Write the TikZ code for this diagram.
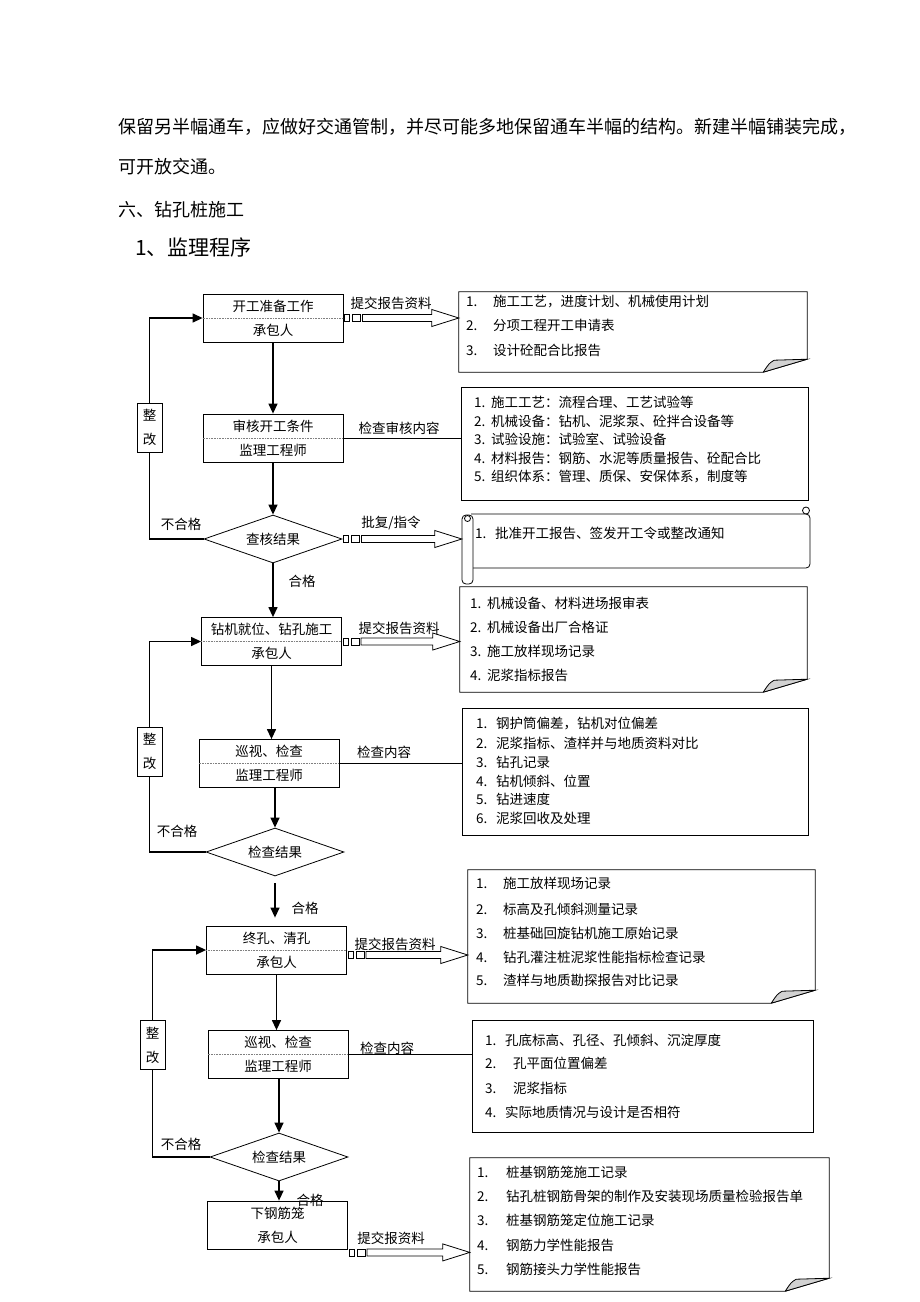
\documentclass[tikz,border=0pt]{standalone}
\usepackage{fontspec}
\setmainfont{Noto Sans CJK SC}
\usetikzlibrary{shapes.geometric,arrows.meta,calc}

\tikzset{
  procbox/.style={draw, line width=0.8pt, minimum width=140pt, minimum height=48pt,
    inner sep=0pt, align=center, font=\fontsize{13.5}{24}\selectfont},
  checknode/.style={draw, line width=0.8pt, diamond, aspect=2.9, minimum width=138pt,
    minimum height=48pt, inner sep=0pt, font=\fontsize{13.5}{16}\selectfont},
  fixbox/.style={draw, line width=0.8pt, minimum width=25pt, minimum height=49pt,
    inner sep=0pt, align=center, font=\fontsize{13.5}{24}\selectfont},
  notearea/.style={inner sep=0pt},
  plainnote/.style={draw, line width=0.8pt, inner sep=0pt},
  lbl/.style={inner sep=0pt, font=\fontsize{13.5}{16}\selectfont},
  item/.style={anchor=west, inner sep=0pt, font=\fontsize{13.5}{16}\selectfont},
  para/.style={anchor=west, inner sep=0pt, font=\fontsize{18}{20}\selectfont},
  flow/.style={line width=1.3pt, -{Triangle[length=10pt,width=9pt]}},
  loopline/.style={line width=1.2pt},
  link/.style={line width=0.8pt},
  divider/.style={densely dotted, line width=0.6pt, gray},
}

% Hollow hand-over arrow: start point, target note
\def\handover#1#2{%
  \draw[link] ($(#1)+(1,-3.5)$) rectangle ($(#1)+(6,3.5)$)
              ($(#1)+(9,-3.5)$) rectangle ($(#1)+(17,3.5)$);
  \draw[link] ($(#1)+(19,-3.5)$) -- ($(#1 -| #2.west)+(-27,-3.5)$)
    -- ($(#1 -| #2.west)+(-27,-8.5)$) -- (#1 -| #2.west)
    -- ($(#1 -| #2.west)+(-27,8.5)$) -- ($(#1 -| #2.west)+(-27,3.5)$)
    -- ($(#1)+(19,3.5)$) -- cycle;
}

% Note with a curled corner
\def\foldnote#1{%
  \draw[link] (#1.north west) -- (#1.north east) -- ($(#1.south east)+(0,-13)$)
    -- ($(#1.south east)+(-44,0)$) -- (#1.south west) -- cycle;
  \filldraw[link, fill=gray!35] ($(#1.south east)+(-44,0)$)
    .. controls ($(#1.south east)+(-38,-9)$) .. ($(#1.south east)+(-33,-12)$)
    -- ($(#1.south east)+(0,-13)$)
    .. controls ($(#1.south east)+(-22,-6)$) .. ($(#1.south east)+(-44,0)$);
}

\begin{document}
\begin{tikzpicture}[x=1pt,y=-1pt]
\fill[white] (0,0) rectangle (920,1302);
\useasboundingbox (0,0) rectangle (920,1302);

% Running text
\node[para] (p1) at (118,127) {保留另半幅通车，应做好交通管制，并尽可能多地保留通车半幅的结构。新建半幅铺装完成，};
\node[para] (p2) at (118,167) {可开放交通。};
\node[para] (p3) at (118,210) {六、钻孔桩施工};
\node[para, font=\fontsize{21}{24}\selectfont] (p4) at (135,247) {1、监理程序};

% Stage 1: start of works
\node[procbox] (a1) at (273,318) {开工准备工作\\承包人};
\node[procbox] (a2) at (273,438) {审核开工条件\\监理工程师};
\node[checknode] (a3) at (273,539) {查核结果};
\node[fixbox] (fix1) at (149.5,427.5) {整\\改};
\draw[divider] (a1.west) -- (a1.east);
\draw[divider] (a2.west) -- (a2.east);

\draw[flow] (a1) -- (a2);
\draw[flow] (a2) -- (a3);
\draw[loopline] (a3.west) -| (fix1.south);
\draw[flow] (fix1.north) |- (a1.west);
\node[lbl] (a3no) at (181,524) {不合格};

% Notes of stage 1
\node[notearea, minimum width=348pt, minimum height=80pt] (n1) at (633,332) {};
\foldnote{n1}
\foreach \y/\t [count=\i] in {302/{施工工艺，进度计划、机械使用计划}, 325/{分项工程开工申请表}, 350/{设计砼配合比报告}}
  \node[item] (n1-\i) at (466,\y) {\makebox[27pt][l]{\i.}\t};

\node[plainnote, minimum width=347pt, minimum height=113pt] (n2) at (634.5,443.5) {};
\foreach \y/\t [count=\i] in {402/{施工工艺：流程合理、工艺试验等}, 421/{机械设备：钻机、泥浆泵、砼拌合设备等},
    439/{试验设施：试验室、试验设备}, 458/{材料报告：钢筋、水泥等质量报告、砼配合比}, 477/{组织体系：管理、质保、安保体系，制度等}}
  \node[item] (n2-\i) at (474,\y) {\makebox[17pt][l]{\i.}\t};

\node[notearea, minimum width=348pt, minimum height=76pt] (n3) at (636,546) {};
\draw[link, rounded corners=4pt] (471,514) -- (810,514) -- (810,568) -- (471,568);
\draw[link, fill=white] (806,510.5) circle[radius=3.5pt];
\draw[link, rounded corners=4pt, fill=white] (462,515) rectangle (473,584);
\draw[link] (467.5,518.5) circle[radius=3pt];
\node[item] (n3-1) at (475,533) {\makebox[20pt][l]{1.}批准开工报告、签发开工令或整改通知};

\draw[link] (a2.east) -- (a2.east -| n2.west);
\node[lbl] (a2txt) at (399,428) {检查审核内容};
\handover{a1.east}{n1}
\node[lbl] (a1txt) at (391,303) {提交报告资料};
\handover{a3.east}{n3}
\node[lbl] (a3txt) at (391,523) {批复/指令};

% Stage 2: drilling
\node[procbox] (b1) at (271.5,641.5) {钻机就位、钻孔施工\\承包人};
\node[procbox] (b2) at (269,763.5) {巡视、检查\\监理工程师};
\node[checknode] (b3) at (275,852) {检查结果};
\node[fixbox] (fix2) at (149.5,751.5) {整\\改};
\draw[divider] (b1.west) -- (b1.east);
\draw[divider] (b2.west) -- (b2.east);

\draw[flow] (a3.south) -- (a3.south |- b1.north);
\node[lbl] (a3ok) at (302,581) {合格};
\draw[flow] (b1.south) -- (b1.south |- b2.north);
\draw[flow] (b2.south -| b3) -- (b3.north);
\draw[loopline] (b3.west) -| (fix2.south);
\draw[flow] (fix2.north) |- (b1.west);
\node[lbl] (b3no) at (177,831) {不合格};

\node[notearea, minimum width=347pt, minimum height=105pt] (n4) at (633.5,639.5) {};
\foldnote{n4}
\foreach \y/\t [count=\i] in {603/{机械设备、材料进场报审表}, 627/{机械设备出厂合格证}, 651/{施工放样现场记录}, 675/{泥浆指标报告}}
  \node[item] (n4-\i) at (470,\y) {\makebox[17pt][l]{\i.}\t};

\node[plainnote, minimum width=346pt, minimum height=127pt] (n5) at (635,771.5) {};
\foreach \y/\t [count=\i] in {723/{钢护筒偏差，钻机对位偏差}, 743/{泥浆指标、渣样并与地质资料对比}, 762/{钻孔记录},
    781/{钻机倾斜、位置}, 799/{钻进速度}, 818/{泥浆回收及处理}}
  \node[item] (n5-\i) at (476,\y) {\makebox[20pt][l]{\i.}\t};

\handover{b1.east}{n4}
\node[lbl] (b1txt) at (399,628) {提交报告资料};
\draw[link] (b2.east) -- (b2.east -| n5.west);
\node[lbl] (b2txt) at (384,752) {检查内容};

% Stage 3: final hole and cleaning
\node[procbox] (c1) at (276.5,950) {终孔、清孔\\承包人};
\node[procbox] (c2) at (278,1054.5) {巡视、检查\\监理工程师};
\node[checknode] (c3) at (279,1157) {检查结果};
\node[fixbox] (fix3) at (152.5,1045) {整\\改};
\draw[divider] (c1.west) -- (c1.east);
\draw[divider] (c2.west) -- (c2.east);

\coordinate (b3gap) at ($(b3.south)+(0,7)$);
\draw[flow, shorten >=8pt] (b3gap) -- (b3gap |- c1.north);
\node[lbl] (b3ok) at (305,908) {合格};
\draw[flow] (c1) -- (c1 |- c2.north);
\draw[flow] (c2.south -| c3) -- (c3.north);
\draw[loopline] (c3.west) -| (fix3.south);
\draw[flow] (fix3.north) |- (c1.west);
\node[lbl] (c3no) at (181,1144) {不合格};

\node[notearea, minimum width=347pt, minimum height=133pt] (n6) at (641.5,936.5) {};
\foldnote{n6}
\foreach \y/\t [count=\i] in {883/{施工放样现场记录}, 909/{标高及孔倾斜测量记录}, 933/{桩基础回旋钻机施工原始记录},
    957/{钻孔灌注桩泥浆性能指标检查记录}, 980/{渣样与地质勘探报告对比记录}}
  \node[item] (n6-\i) at (476,\y) {\makebox[27pt][l]{\i.}\t};

\node[plainnote, minimum width=341pt, minimum height=112pt] (n7) at (642.5,1076) {};
\node[item] (n7-1) at (485,1040) {\makebox[20pt][l]{1.}孔底标高、孔径、孔倾斜、沉淀厚度};
\node[item] (n7-2) at (485,1063) {\makebox[28pt][l]{2.}孔平面位置偏差};
\node[item] (n7-3) at (485,1088) {\makebox[28pt][l]{3.}泥浆指标};
\node[item] (n7-4) at (485,1112) {\makebox[20pt][l]{4.}实际地质情况与设计是否相符};

\coordinate (c1out) at ($(c1.east)+(0,5)$);
\handover{c1out}{n6}
\node[lbl] (c1txt) at (395,944) {提交报告资料};
\draw[link] (c2.east) -- (c2.east -| n7.west);
\node[lbl] (c2txt) at (387,1048) {检查内容};

% Stage 4: reinforcement cage
\node[procbox] (d1) at (277.5,1225) {下钢筋笼\\承包人};
\draw[flow] (c3) -- (c3 |- d1.north);
\node[lbl] (c3ok) at (310,1200) {合格};

\node[notearea, minimum width=359pt, minimum height=133pt] (n8) at (649.5,1224.5) {};
\foldnote{n8}
\foreach \y/\t [count=\i] in {1172/{桩基钢筋笼施工记录}, 1196/{钻孔桩钢筋骨架的制作及安装现场质量检验报告单}, 1220/{桩基钢筋笼定位施工记录},
    1245/{钢筋力学性能报告}, 1269/{钢筋接头力学性能报告}}
  \node[item] (n8-\i) at (477,\y) {\makebox[29pt][l]{\i.}\t};

\coordinate (d1out) at ($(d1.south east)+(0,3)$);
\handover{d1out}{n8}
\node[lbl] (d1txt) at (391,1238) {提交报资料};

\end{tikzpicture}
\end{document}
